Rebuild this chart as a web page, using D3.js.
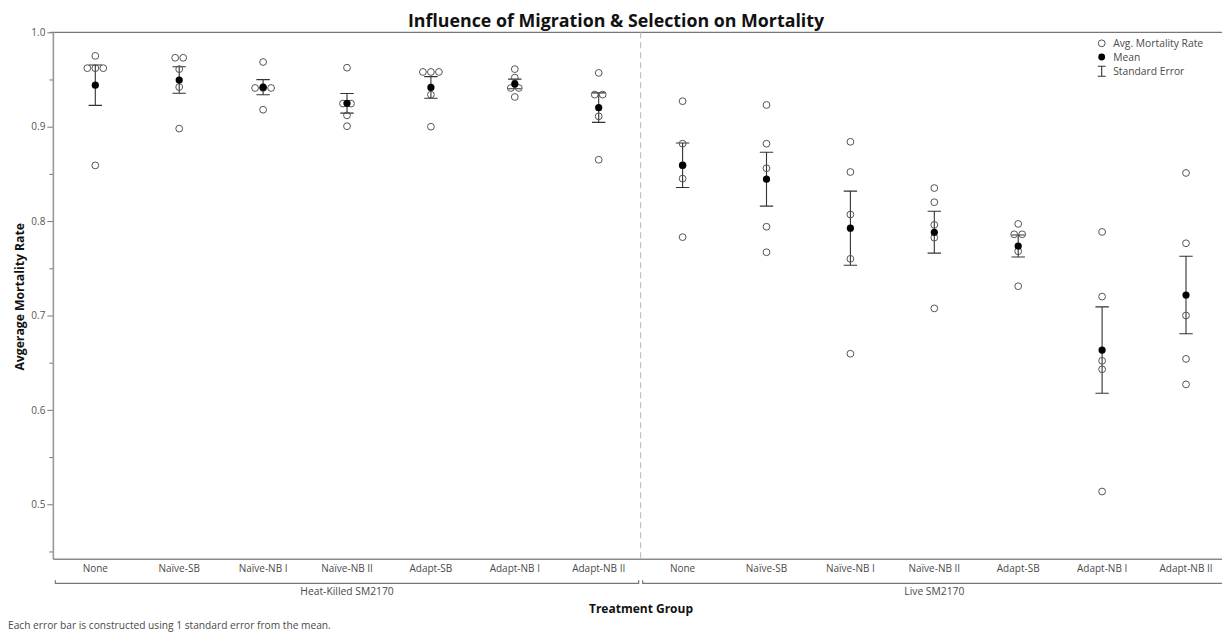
<!DOCTYPE html>
<html>
<head>
<meta charset="utf-8">
<script src="https://cdn.jsdelivr.net/npm/d3@7"></script>
<style>
  html, body { margin: 0; padding: 0; background: #fff; }
  svg { display: block; font-family: "Open Sans", "Noto Sans", sans-serif; }
</style>
</head>
<body>
<svg id="chart" width="1222" height="632"></svg>
<script>
// Treatment groups along the x axis, nested inside two outer groups
const outerGroups = ["Heat-Killed SM2170", "Live SM2170"];
const treatments = ["None", "Naïve-SB", "Naïve-NB I", "Naïve-NB II", "Adapt-SB", "Adapt-NB I", "Adapt-NB II"];

// Average mortality rate per replicate, one array per treatment
const heatKilledRates = [
  [0.975, 0.962, 0.962, 0.962, 0.859],
  [0.973, 0.973, 0.961, 0.942, 0.898],
  [0.9685, 0.941, 0.941, 0.941, 0.918],
  [0.9625, 0.9245, 0.9245, 0.912, 0.9005],
  [0.958, 0.958, 0.958, 0.934, 0.900],
  [0.961, 0.952, 0.941, 0.941, 0.9315],
  [0.957, 0.934, 0.934, 0.911, 0.865]
];
const liveRates = [
  [0.927, 0.882, 0.859, 0.845, 0.783],
  [0.923, 0.882, 0.856, 0.794, 0.767],
  [0.884, 0.852, 0.807, 0.760, 0.6595],
  [0.835, 0.820, 0.796, 0.7825, 0.7075],
  [0.797, 0.786, 0.786, 0.768, 0.731],
  [0.7885, 0.720, 0.652, 0.643, 0.5135],
  [0.851, 0.7765, 0.700, 0.654, 0.627]
];

const yTicks = [0.5, 0.6, 0.7, 0.8, 0.9, 1.0];
const yMinorTicks = [0.45, 0.55, 0.65, 0.75, 0.85, 0.95];
const yDomain = [0.4417, 1.0];

const titleText = "Influence of Migration & Selection on Mortality";
const yTitle = "Avgerage Mortality Rate";
const xTitle = "Treatment Group";
const footnote = "Each error bar is constructed using 1 standard error from the mean.";
const legendItems = ["Avg. Mortality Rate", "Mean", "Standard Error"];

// Build the flat list of cells (outer group x treatment)
const ratesByGroup = [heatKilledRates, liveRates];
const cells = [];
outerGroups.forEach((g, gi) => {
  treatments.forEach((t, ti) => {
    const vals = ratesByGroup[gi][ti];
    const n = vals.length;
    const mean = d3.mean(vals);
    const se = d3.deviation(vals) / Math.sqrt(n);
    cells.push({ key: g + "|" + t, group: g, name: t, vals, mean, se });
  });
});

const svg = d3.select("#chart");
const plotLeft = 53.35, band = 83.9, plotTop = 32.3, plotBottom = 559.3;

const x = d3.scaleBand()
  .domain(cells.map(d => d.key))
  .range([plotLeft, plotLeft + band * cells.length])
  .padding(0);
const y = d3.scaleLinear().domain(yDomain).range([plotBottom, plotTop]);

const textColor = "#4a4a4a";

// Title
svg.append("text")
  .attr("x", 616).attr("y", 26.5)
  .attr("text-anchor", "middle")
  .attr("font-size", 17.8).attr("font-weight", "bold").attr("fill", "#111")
  .text(titleText);

// Top frame line
svg.append("line")
  .attr("x1", plotLeft - 3).attr("x2", 1222)
  .attr("y1", y(1.0)).attr("y2", y(1.0))
  .attr("stroke", "#555").attr("stroke-width", 1);

// Y axis (major ticks + labels)
const yAxis = d3.axisLeft(y).tickValues(yTicks).tickFormat(d3.format(".1f")).tickSize(6).tickPadding(2);
const gy = svg.append("g").attr("transform", `translate(${plotLeft},0)`).call(yAxis);
gy.select(".domain").remove();
gy.selectAll(".tick line").attr("stroke", "#777");
gy.selectAll(".tick text").attr("fill", "#555").attr("font-size", 10).attr("font-family", "Open Sans, sans-serif");

// Minor ticks
const yMinor = d3.axisLeft(y).tickValues(yMinorTicks).tickFormat("").tickSize(4);
const gym = svg.append("g").attr("transform", `translate(${plotLeft},0)`).call(yMinor);
gym.select(".domain").remove();
gym.selectAll(".tick line").attr("stroke", "#777");

// Left axis line
svg.append("line")
  .attr("x1", plotLeft).attr("x2", plotLeft)
  .attr("y1", plotTop).attr("y2", plotBottom)
  .attr("stroke", "#999").attr("stroke-width", 1.6);

// Bottom axis line
svg.append("line")
  .attr("x1", plotLeft).attr("x2", 1222)
  .attr("y1", plotBottom).attr("y2", plotBottom)
  .attr("stroke", "#8a8a8a").attr("stroke-width", 1.4);

// Dashed separator between outer groups
const sepX = x(cells[treatments.length].key);
svg.append("line")
  .attr("x1", sepX).attr("x2", sepX)
  .attr("y1", plotTop).attr("y2", plotBottom + 2)
  .attr("stroke", "#b5b5b5").attr("stroke-width", 1)
  .attr("stroke-dasharray", "6,4");

// Y axis title
svg.append("text")
  .attr("transform", `translate(24,${(plotTop + plotBottom) / 2 + 1}) rotate(-90)`)
  .attr("text-anchor", "middle")
  .attr("font-size", 12.2).attr("font-weight", "bold").attr("fill", "#111")
  .text(yTitle);

// Category labels
svg.append("g").selectAll("text").data(cells).join("text")
  .attr("x", d => x(d.key) + x.bandwidth() / 2)
  .attr("y", 571.5)
  .attr("text-anchor", "middle")
  .attr("font-size", 10).attr("fill", textColor)
  .text(d => d.name);

// Outer group brackets and labels
const bracketY = 583.3;
outerGroups.forEach((g, gi) => {
  const first = cells[gi * treatments.length];
  const last = cells[gi * treatments.length + treatments.length - 1];
  const x1 = x(first.key) + 2;
  const x2 = Math.min(x(last.key) + x.bandwidth() - 2, 1222);
  const gg = svg.append("g");
  gg.append("path")
    .attr("d", `M${x1},${bracketY - 3}V${bracketY}H${x2}` + (gi === 0 ? `V${bracketY - 3}` : ""))
    .attr("fill", "none").attr("stroke", "#777").attr("stroke-width", 1.2);
  gg.append("text")
    .attr("x", (x(first.key) + x(last.key) + x.bandwidth()) / 2)
    .attr("y", 594.8)
    .attr("text-anchor", "middle")
    .attr("font-size", 10.3).attr("fill", textColor)
    .text(g);
});

// X axis title
svg.append("text")
  .attr("x", 641).attr("y", 613)
  .attr("text-anchor", "middle")
  .attr("font-size", 12).attr("font-weight", "bold").attr("fill", "#111")
  .text(xTitle);

// Footnote
svg.append("text")
  .attr("x", 8).attr("y", 628.5)
  .attr("font-size", 10.2).attr("fill", textColor)
  .text(footnote);

// Replicate points: identical values are placed side by side
const pointStep = 8;
const pts = [];
cells.forEach(c => {
  const counts = d3.rollup(c.vals, v => v.length, v => v);
  const seen = new Map();
  c.vals.forEach(v => {
    const n = counts.get(v);
    const k = seen.get(v) || 0;
    seen.set(v, k + 1);
    pts.push({ key: c.key, v, dx: (k - (n - 1) / 2) * pointStep });
  });
});

const cx = d => x(d.key) + x.bandwidth() / 2;

// Error bars (mean ± 1 SE)
const capHalf = 6.7;
const eb = svg.append("g").attr("stroke", "#333").attr("stroke-width", 1.1).attr("fill", "none");
cells.forEach(c => {
  const xc = cx(c), yt = y(c.mean + c.se), yb = y(c.mean - c.se);
  eb.append("path").attr("d",
    `M${xc - capHalf},${yt}H${xc + capHalf}M${xc},${yt}V${yb}M${xc - capHalf},${yb}H${xc + capHalf}`);
});

svg.append("g").selectAll("circle").data(pts).join("circle")
  .attr("cx", d => cx(d) + d.dx)
  .attr("cy", d => y(d.v))
  .attr("r", 3.4)
  .attr("fill", "none").attr("stroke", "#555").attr("stroke-width", 1);

// Means
svg.append("g").selectAll("circle").data(cells).join("circle")
  .attr("cx", cx)
  .attr("cy", d => y(d.mean))
  .attr("r", 3.6)
  .attr("fill", "#000");

// Legend
const lg = svg.append("g").attr("transform", "translate(1101.7,43.3)");
lg.append("circle").attr("cx", 0).attr("cy", 0).attr("r", 3.4)
  .attr("fill", "none").attr("stroke", "#555").attr("stroke-width", 1);
lg.append("circle").attr("cx", 0).attr("cy", 13.7).attr("r", 3.4).attr("fill", "#000");
lg.append("path").attr("d", "M-4,23H4M0,23V33M-4,33H4")
  .attr("stroke", "#333").attr("stroke-width", 1.1).attr("fill", "none");
lg.selectAll("text").data(legendItems).join("text")
  .attr("x", 11.5)
  .attr("y", (d, i) => [0, 13.7, 27.7][i] + 3.6)
  .attr("font-size", 10.3).attr("fill", textColor)
  .text(d => d);
</script>
</body>
</html>
